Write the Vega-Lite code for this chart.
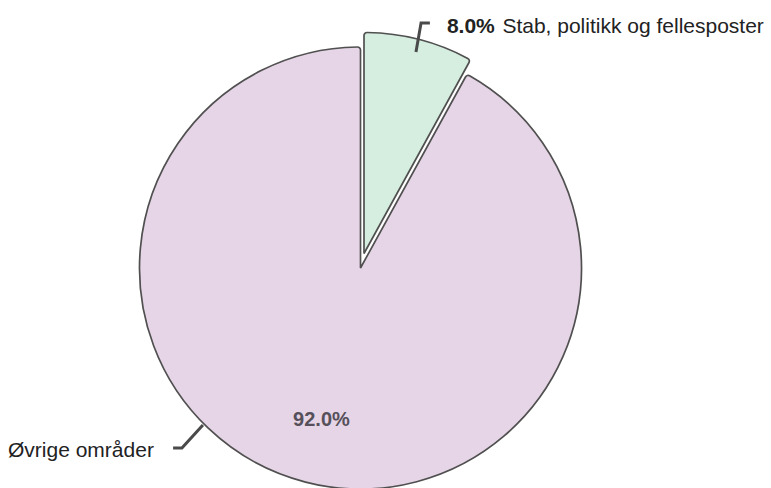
{
  "$schema": "https://vega.github.io/schema/vega-lite/v6.json",
  "autosize": {"type": "none"},
  "width": 721,
  "height": 440,
  "padding": {"left": 0, "top": 48, "right": 50, "bottom": 0},
  "background": "white",
  "config": {"view": {"stroke": null}, "font": "Liberation Sans"},
  "datasets": {
    "slices": [
      {"name": "Stab, politikk og fellesposter", "value": 8.0, "order": 1, "label": "8.0%"},
      {"name": "Øvrige områder", "value": 92.0, "order": 2, "label": "92.0%"}
    ],
    "leaders": [
      {"grp": "stab", "seq": 1, "x": 25.1, "y": 97.7},
      {"grp": "stab", "seq": 2, "x": 27.4, "y": 110.9},
      {"grp": "stab", "seq": 3, "x": 31.4, "y": 110.9},
      {"grp": "ovrige", "seq": 1, "x": -71.3, "y": -71.0},
      {"grp": "ovrige", "seq": 2, "x": -80.8, "y": -81.4},
      {"grp": "ovrige", "seq": 3, "x": -84.8, "y": -81.4}
    ],
    "labels": [
      {"text": "8.0%", "x": 39.1, "y": 106.3, "bold": true},
      {"text": "Stab, politikk og fellesposter", "x": 64.2, "y": 106.3, "bold": false},
      {"text": "Øvrige områder", "x": -159.5, "y": -85.5, "bold": false}
    ]
  },
  "layer": [
    {
      "data": {"name": "slices"},
      "transform": [
        {"stack": "value", "groupby": [], "sort": [{"field": "order"}], "as": ["v0", "v1"]},
        {"filter": "datum.order === 2"}
      ],
      "mark": {"type": "arc", "outerRadius": 221, "cornerRadius": 3, "stroke": "#505050", "strokeWidth": 1.7},
      "encoding": {
        "theta": {"field": "v0", "type": "quantitative", "scale": {"domain": [0, 100]}},
        "theta2": {"field": "v1"},
        "color": {"field": "name", "type": "nominal", "legend": null,
          "scale": {"domain": ["Stab, politikk og fellesposter", "Øvrige områder"], "range": ["#d5eedf", "#e6d5e6"]}}
      }
    },
    {
      "data": {"name": "slices"},
      "transform": [
        {"stack": "value", "groupby": [], "sort": [{"field": "order"}], "as": ["v0", "v1"]},
        {"filter": "datum.order === 1"}
      ],
      "mark": {"type": "arc", "outerRadius": 221, "cornerRadius": 3, "stroke": "#505050", "strokeWidth": 1.7, "xOffset": 3.5, "yOffset": -14.5},
      "encoding": {
        "theta": {"field": "v0", "type": "quantitative", "scale": {"domain": [0, 100]}},
        "theta2": {"field": "v1"},
        "color": {"field": "name", "type": "nominal", "legend": null}
      }
    },
    {
      "data": {"name": "slices"},
      "mark": {"type": "text", "radius": 157, "fontSize": 20, "fontWeight": "bold", "fill": "#55505a", "baseline": "middle", "align": "center"},
      "encoding": {
        "theta": {"field": "value", "type": "quantitative", "stack": true, "scale": {"domain": [0, 100]}},
        "order": {"field": "order", "type": "quantitative"},
        "text": {"field": "label"},
        "opacity": {"condition": {"test": "datum.order === 2", "value": 1}, "value": 0}
      }
    },
    {
      "data": {"name": "leaders"},
      "mark": {"type": "line", "stroke": "#4a4a4a", "strokeWidth": 3, "strokeCap": "butt", "strokeJoin": "miter"},
      "encoding": {
        "x": {"field": "x", "type": "quantitative", "axis": null, "scale": {"domain": [-163.12, 163.12], "nice": false, "zero": false}},
        "y": {"field": "y", "type": "quantitative", "axis": null, "scale": {"domain": [-99.55, 99.55], "nice": false, "zero": false}},
        "detail": {"field": "grp"},
        "order": {"field": "seq", "type": "quantitative"}
      }
    },
    {
      "data": {"name": "labels"},
      "transform": [{"filter": "datum.bold"}],
      "mark": {"type": "text", "align": "left", "baseline": "alphabetic", "fontSize": 21, "fontWeight": "bold", "fill": "#222222"},
      "encoding": {
        "x": {"field": "x", "type": "quantitative"},
        "y": {"field": "y", "type": "quantitative"},
        "text": {"field": "text"}
      }
    },
    {
      "data": {"name": "labels"},
      "transform": [{"filter": "!datum.bold"}],
      "mark": {"type": "text", "align": "left", "baseline": "alphabetic", "fontSize": 21, "fill": "#222222"},
      "encoding": {
        "x": {"field": "x", "type": "quantitative"},
        "y": {"field": "y", "type": "quantitative"},
        "text": {"field": "text"}
      }
    }
  ]
}
